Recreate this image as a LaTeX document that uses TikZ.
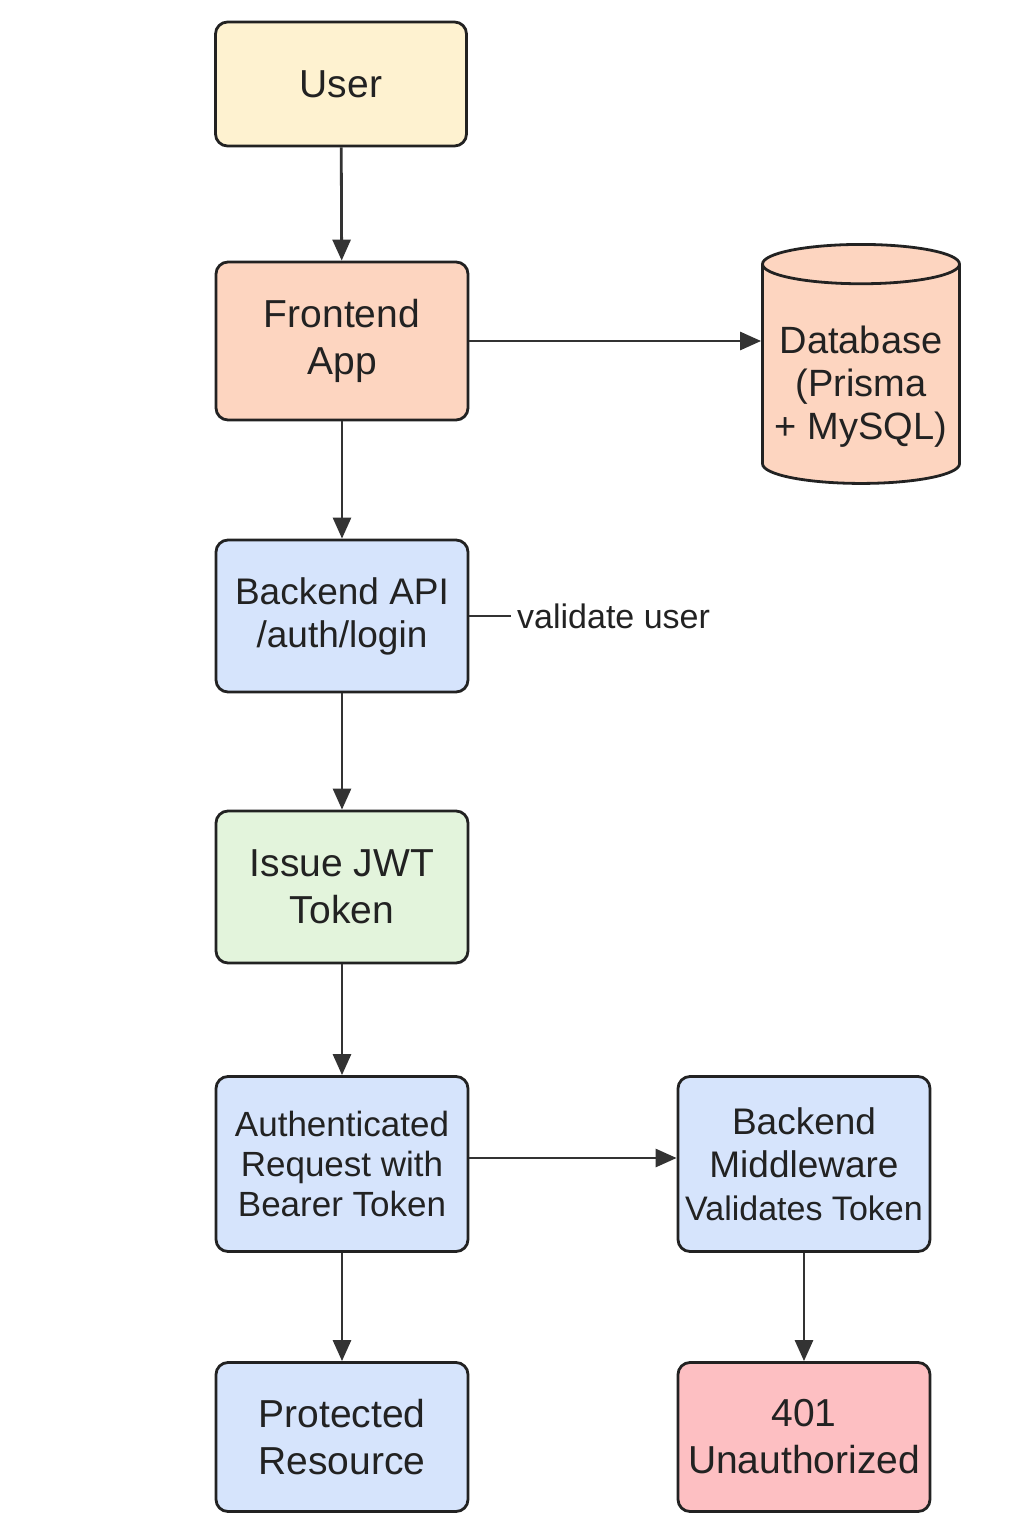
\documentclass[tikz,border=0pt]{standalone}
\usepackage{fontspec}
\setmainfont{Liberation Sans}
\usetikzlibrary{arrows.meta,shapes.geometric}
\definecolor{usercol}{HTML}{FEF2D0}
\definecolor{peachcol}{HTML}{FDD5C0}
\definecolor{apicol}{HTML}{D6E4FC}
\definecolor{jwtcol}{HTML}{E3F4DC}
\definecolor{errcol}{HTML}{FDBFC2}
\definecolor{linecol}{HTML}{222222}
\definecolor{arrowcol}{HTML}{333333}
\begin{document}
\begin{tikzpicture}[x=1pt, y=-1pt,
    box/.style={draw=linecol, line width=2.8pt, rounded corners=12pt, align=center,
      minimum width=252pt, minimum height=152pt, inner sep=0pt, text=linecol,
      font=\fontsize{39}{47}\selectfont},
    small/.style={font=\fontsize{35}{40}\selectfont},
    flow/.style={draw=arrowcol, line width=2.8pt, -{Triangle[length=21pt,width=18pt]}}]
  \useasboundingbox (0,0) rectangle (1024,1536);
  \node[box, fill=usercol, minimum width=251pt, minimum height=124pt] (user) at (341,84) {User};
  \node[box, fill=peachcol, minimum height=158pt] (front) at (342,341) {Frontend\\App};
  \node[cylinder, shape border rotate=90, aspect=0.22, draw=linecol, line width=2.8pt,
    fill=peachcol, text=linecol, minimum width=197pt, minimum height=239pt,
    font=\fontsize{38}{43}\selectfont] (db) at (861,377)
    {\raisebox{0pt}[\dimexpr\height+22pt\relax]{\begin{tabular}{@{}c@{}}Database\\(Prisma\\+ MySQL)\end{tabular}}};
  \node[box, fill=apicol, font=\fontsize{37}{43}\selectfont] (api) at (342,616) {Backend API\\/auth/login};
  \node[anchor=west, inner sep=6pt, text=linecol, font=\fontsize{34}{40}\selectfont] (valid) at (511,616) {validate user};
  \node[box, fill=jwtcol] (jwt) at (342,887) {Issue JWT\\Token};
  \node[box, fill=apicol, minimum height=175pt, small] (auth) at (342,1164) {Authenticated\\Request with\\Bearer Token};
  \node[box, fill=apicol, minimum height=175pt, font=\fontsize{37}{43}\selectfont] (mw) at (804,1164)
    {Backend\\Middleware\\{\fontsize{34}{43}\selectfont Validates Token}};
  \node[box, fill=apicol, minimum height=149pt] (prot) at (342,1437) {Protected\\Resource};
  \node[box, fill=errcol, minimum height=149pt] (unauth) at (804,1437) {401\\Unauthorized};
  \draw[flow] (user) -- (front);
  \draw[flow] (front.east) -- (front.east -| db.west);
  \draw[flow] (front) -- (api);
  \draw[draw=arrowcol, line width=2.8pt] (api.east) -- (valid.west);
  \draw[flow] (api) -- (jwt);
  \draw[flow] (jwt) -- (auth);
  \draw[flow] ([yshift=6pt]auth.east) -- ([yshift=6pt]auth.east -| mw.west);
  \draw[flow] (auth) -- (prot);
  \draw[flow] (mw) -- (unauth);
\end{tikzpicture}
\end{document}
